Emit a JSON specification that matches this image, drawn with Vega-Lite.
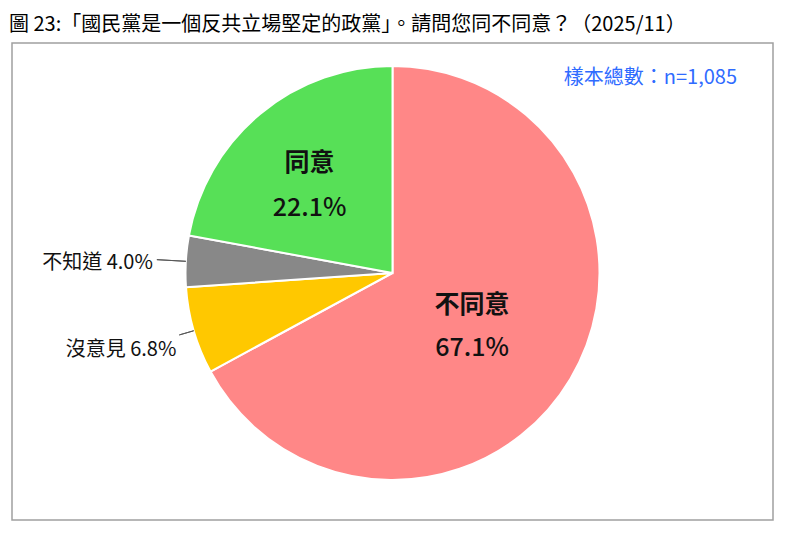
{
  "$schema": "https://vega.github.io/schema/vega-lite/v6.json",
  "width": 761,
  "height": 477,
  "autosize": {"type": "none"},
  "padding": {"left": 12, "top": 43, "right": 27, "bottom": 33},
  "background": "white",
  "view": {"stroke": "#A0A0A0", "strokeWidth": 1.5},
  "config": {
    "font": "Noto Sans CJK TC",
    "view": {"stroke": "#A0A0A0", "strokeWidth": 1.5}
  },
  "title": {
    "text": "圖 23:「國民黨是一個反共立場堅定的政黨」。請問您同不同意？（2025/11）",
    "anchor": "start",
    "font": "Noto Sans CJK TC",
    "fontSize": 20,
    "fontWeight": "normal",
    "color": "#000000",
    "offset": 8,
    "dx": -3
  },
  "data": {
    "values": [
      {"option": "不同意", "pct": 67.1},
      {"option": "沒意見", "pct": 6.8},
      {"option": "不知道", "pct": 4.0},
      {"option": "同意", "pct": 22.1}
    ]
  },
  "transform": [
    {"window": [{"op": "row_number", "as": "idx"}]},
    {"calculate": "format(datum.pct, '.1f') + '%'", "as": "pctText"},
    {"calculate": "datum.option + ' ' + datum.pctText", "as": "outerText"}
  ],
  "layer": [
    {
      "encoding": {
        "theta": {"field": "pct", "type": "quantitative", "stack": true},
        "order": {"field": "idx", "type": "quantitative"}
      },
      "layer": [
        {
          "mark": {"type": "arc", "radius": 207, "stroke": "white", "strokeWidth": 2, "y": {"expr": "height / 2 - 8.5"}},
          "encoding": {
            "color": {
              "field": "option",
              "type": "nominal",
              "scale": {
                "domain": ["不同意", "沒意見", "不知道", "同意"],
                "range": ["#FF8787", "#FFC800", "#888888", "#57E057"]
              },
              "legend": null
            }
          }
        },
        {
          "mark": {"type": "arc", "radius": 236, "radius2": 207, "padAngle": 1, "fillOpacity": 0, "stroke": "#595959", "strokeWidth": 1, "y": {"expr": "height / 2 - 8.5"}},
          "encoding": {
            "strokeOpacity": {"condition": {"test": "datum.option === '不知道'", "value": 1}, "value": 0}
          }
        },
        {
          "mark": {"type": "arc", "radius": 222, "radius2": 207, "padAngle": 1, "fillOpacity": 0, "stroke": "#595959", "strokeWidth": 1, "y": {"expr": "height / 2 - 8.5"}},
          "encoding": {
            "strokeOpacity": {"condition": {"test": "datum.option === '沒意見'", "value": 1}, "value": 0}
          }
        },
        {
          "mark": {"type": "text", "radius": 121, "dx": -5.5, "dy": -17, "fontSize": 25, "fontWeight": "bold", "color": "#111111", "y": {"expr": "height / 2 - 8.5"}},
          "encoding": {
            "text": {"condition": {"test": "datum.option === '同意'", "field": "option"}, "value": ""}
          }
        },
        {
          "mark": {"type": "text", "radius": 121, "dx": -5.5, "dy": 28, "fontSize": 25, "fontWeight": 500, "color": "#111111", "y": {"expr": "height / 2 - 8.5"}},
          "encoding": {
            "text": {"condition": {"test": "datum.option === '同意'", "field": "pctText"}, "value": ""}
          }
        },
        {
          "mark": {"type": "text", "radius": 95, "dx": -2, "dy": -17, "fontSize": 25, "fontWeight": "bold", "color": "#111111", "y": {"expr": "height / 2 - 8.5"}},
          "encoding": {
            "text": {"condition": {"test": "datum.option === '不同意'", "field": "option"}, "value": ""}
          }
        },
        {
          "mark": {"type": "text", "radius": 95, "dx": -2, "dy": 26.5, "fontSize": 25, "fontWeight": 500, "color": "#111111", "y": {"expr": "height / 2 - 8.5"}},
          "encoding": {
            "text": {"condition": {"test": "datum.option === '不同意'", "field": "pctText"}, "value": ""}
          }
        },
        {
          "mark": {"type": "text", "radius": 240, "align": "right", "baseline": "middle", "dy": 4, "fontSize": 20, "color": "#111111", "y": {"expr": "height / 2 - 8.5"}},
          "encoding": {
            "text": {"condition": {"test": "datum.option === '不知道'", "field": "outerText"}, "value": ""}
          }
        },
        {
          "mark": {"type": "text", "radius": 236, "align": "right", "baseline": "middle", "dx": 10.5, "dy": 11, "fontSize": 20, "color": "#111111", "y": {"expr": "height / 2 - 8.5"}},
          "encoding": {
            "text": {"condition": {"test": "datum.option === '沒意見'", "field": "outerText"}, "value": ""}
          }
        }
      ]
    },
    {
      "data": {"values": [{"note": "樣本總數：n=1,085"}]},
      "mark": {"type": "text", "align": "right", "baseline": "middle", "x": {"expr": "width - 36"}, "y": 35, "fontSize": 20, "color": "#2F6BFF"},
      "encoding": {"text": {"field": "note"}}
    }
  ]
}
